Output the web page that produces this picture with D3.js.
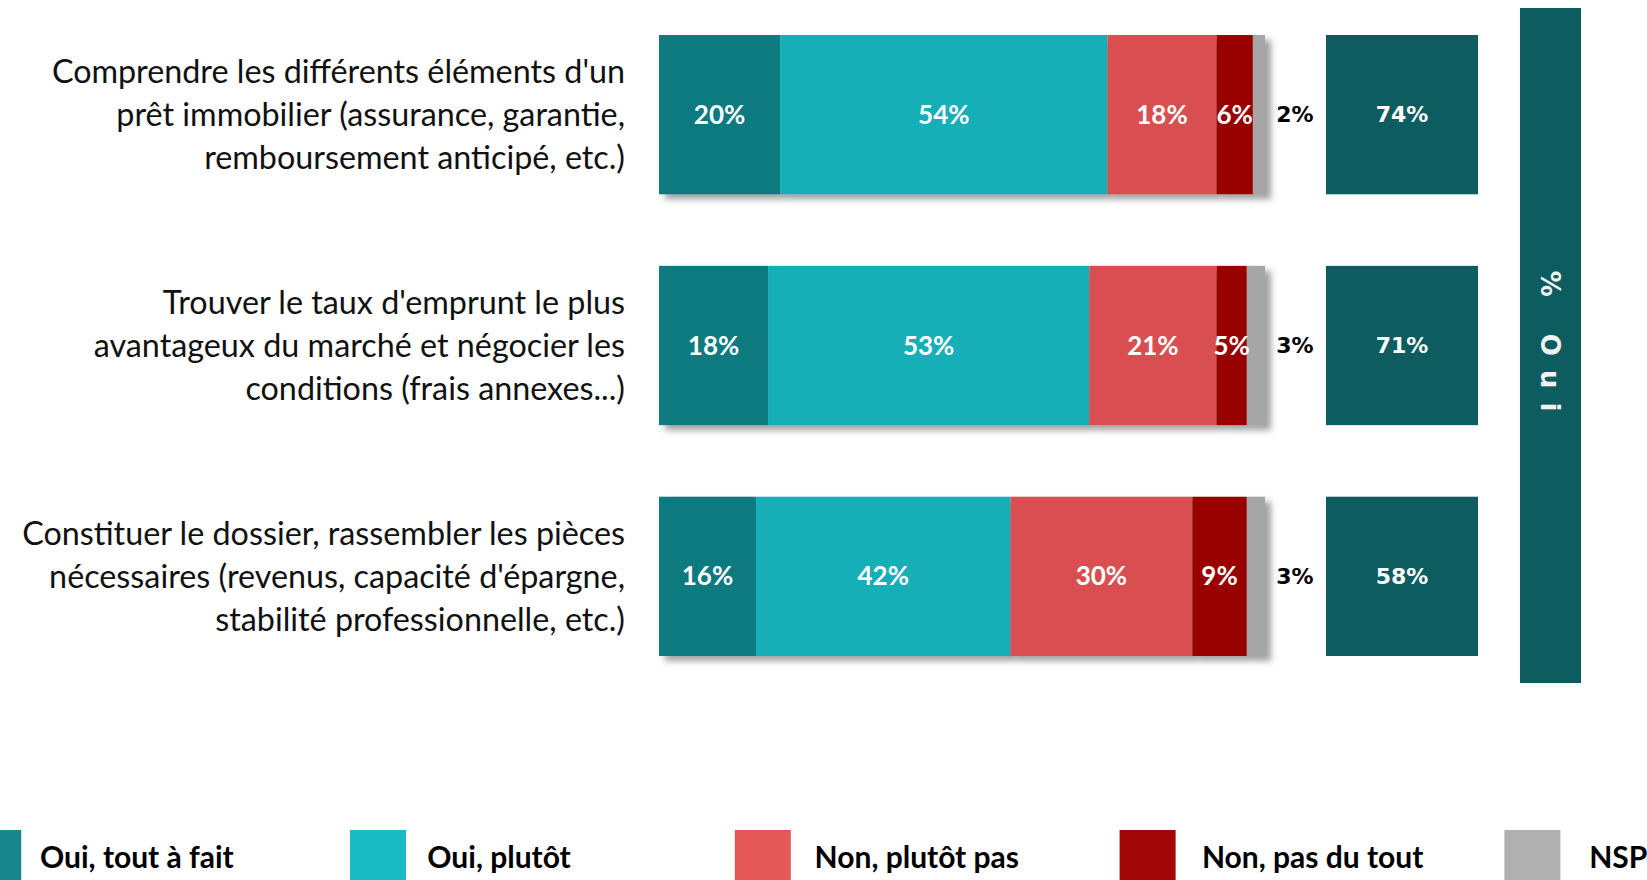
<!DOCTYPE html>
<html>
<head>
<meta charset="utf-8">
<script src="https://cdn.jsdelivr.net/npm/d3@7"></script>
<style>
  html, body { margin: 0; padding: 0; background: #fff; overflow: hidden; }
  svg { display: block; }
</style>
</head>
<body>
<svg id="chart" width="1647" height="880"></svg>
<script>
const categories = [
    ["Comprendre les différents éléments d'un", "prêt immobilier (assurance, garantie,", "remboursement anticipé, etc.)"],
    ["Trouver le taux d'emprunt le plus", "avantageux du marché et négocier les", "conditions (frais annexes...)"],
    ["Constituer le dossier, rassembler les pièces", "nécessaires (revenus, capacité d'épargne,", "stabilité professionnelle, etc.)"]
];
const seriesNames = ['Oui, tout à fait', 'Oui, plutôt', 'Non, plutôt pas', 'Non, pas du tout', 'NSP'];
const ouiToutAFait = [20, 18, 16];
const ouiPlutot = [54, 53, 42];
const nonPlutotPas = [18, 21, 30];
const nonPasDuTout = [6, 5, 9];
const nsp = [2, 3, 3];
const totalOui = [74, 71, 58];
const sideTitle = '% Oui';

const barColors = ['#0f7a80', '#14afb8', '#d94f51', '#990000', '#a6a6a6'];
const legendColors = ['#17868b', '#19bcc4', '#e55858', '#a20606', '#b0b0b0'];
const ouiColor = '#0d5c5f';

const svg = d3.select('#chart');

const defs = svg.append('defs');
const shadow = defs.append('filter').attr('id', 'shadow')
    .attr('x', '-5%').attr('y', '-10%').attr('width', '115%').attr('height', '130%');
shadow.append('feDropShadow')
    .attr('dx', 6).attr('dy', 5).attr('stdDeviation', 3)
    .attr('flood-color', '#555').attr('flood-opacity', 0.55);

const rows = d3.range(categories.length);
const values = [ouiToutAFait, ouiPlutot, nonPlutotPas, nonPasDuTout, nsp];

const y = d3.scaleBand()
    .domain(rows)
    .range([35, 656])
    .paddingInner(0.31)
    .paddingOuter(0);

const x = d3.scaleLinear().domain([0, 100]).range([659, 1265]);

// category labels
const labels = svg.append('g');
rows.forEach(r => {
    const cy = y(r) + y.bandwidth() / 2;
    categories[r].forEach((line, li) => {
        labels.append('text')
            .attr('x', 625)
            .attr('y', cy + (li - 1) * 43)
            .attr('dy', '0.35em')
            .attr('text-anchor', 'end')
            .attr('font-family', 'Lato, sans-serif')
            .attr('font-size', 32.3)
            .attr('fill', '#111')
            .text(line);
    });
});

// stacked bars
rows.forEach(r => {
    const g = svg.append('g').attr('filter', 'url(#shadow)');
    let acc = 0;
    const segs = values.map((vals, s) => {
        const start = acc;
        acc += vals[r];
        return { s, start, end: acc, v: vals[r] };
    });
    g.selectAll('rect')
        .data(segs)
        .join('rect')
        .attr('x', d => x(d.start))
        .attr('y', y(r))
        .attr('width', d => x(d.end) - x(d.start))
        .attr('height', y.bandwidth())
        .attr('fill', d => barColors[d.s]);

    const cy = y(r) + y.bandwidth() / 2;
    svg.append('g').selectAll('text')
        .data(segs.slice(0, 4))
        .join('text')
        .attr('x', d => (x(d.start) + x(d.end)) / 2)
        .attr('y', cy)
        .attr('dy', '0.35em')
        .attr('text-anchor', 'middle')
        .attr('font-family', 'Lato, sans-serif')
        .attr('font-weight', 700)
        .attr('font-size', 26)
        .attr('fill', '#fff')
        .text(d => d.v + '%');

    // NSP value outside
    svg.append('text')
        .attr('x', 1295)
        .attr('y', cy)
        .attr('dy', '0.35em')
        .attr('text-anchor', 'middle')
        .attr('font-family', 'DejaVu Sans, sans-serif')
        .attr('font-weight', 700)
        .attr('font-size', 22)
        .attr('fill', '#000')
        .text(nsp[r] + '%');

    // total oui box
    svg.append('rect')
        .attr('x', 1326)
        .attr('y', y(r))
        .attr('width', 152)
        .attr('height', y.bandwidth())
        .attr('fill', ouiColor);
    svg.append('text')
        .attr('x', 1402)
        .attr('y', cy)
        .attr('dy', '0.35em')
        .attr('text-anchor', 'middle')
        .attr('font-family', 'DejaVu Sans, sans-serif')
        .attr('font-weight', 700)
        .attr('font-size', 22)
        .attr('fill', '#fff')
        .text(totalOui[r] + '%');
});

// side title bar
svg.append('rect')
    .attr('x', 1520).attr('y', 8)
    .attr('width', 61).attr('height', 675)
    .attr('fill', ouiColor);
svg.append('text')
    .attr('transform', 'translate(1550,348) rotate(90)')
    .attr('text-anchor', 'middle')
    .attr('dy', '0.35em')
    .attr('font-family', 'DejaVu Sans, sans-serif')
    .attr('font-weight', 700)
    .attr('font-size', 26)
    .attr('letter-spacing', 14)
    .attr('fill', '#f2f2f2')
    .text(sideTitle);

// legend
const legend = svg.append('g');
seriesNames.forEach((name, i) => {
    legend.append('rect')
        .attr('x', 350 + (i - 1) * 384.8)
        .attr('y', 830)
        .attr('width', 56)
        .attr('height', 60)
        .attr('fill', legendColors[i]);
    legend.append('text')
        .attr('x', 40 + i * 387.3)
        .attr('y', 857)
        .attr('dy', '0.35em')
        .attr('font-family', 'Lato, sans-serif')
        .attr('font-weight', 700)
        .attr('font-size', 30)
        .attr('fill', '#000')
        .text(name);
});
</script>
</body>
</html>
